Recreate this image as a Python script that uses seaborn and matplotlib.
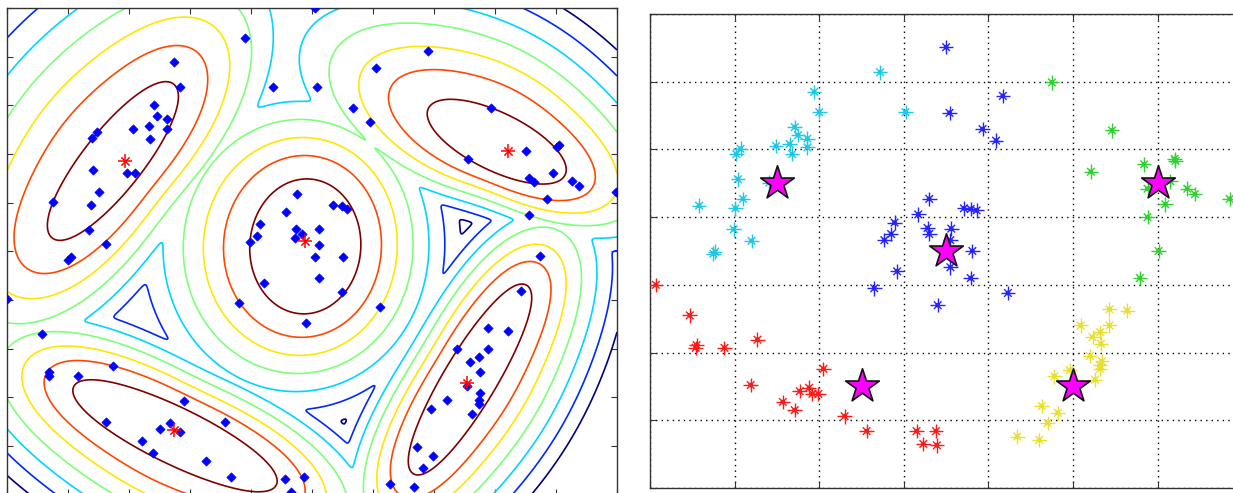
import numpy as np
import pandas as pd
import matplotlib
matplotlib.use("Agg")
import matplotlib.pyplot as plt
import seaborn as sns

# ---- left panel: samples (blue diamonds) ----
left_x = [5.05, 3.90, 2.74, 2.84, 4.36, 2.41, 2.46, 2.63, 2.07, 2.33, 2.63, 1.47, 1.40, 2.35, 1.41, 1.96, 2.10, 1.51, 0.76, 1.38, 1.35, 1.63, 1.00, 1.05,
          4.75, 4.57, 4.15, 4.73, 4.83, 4.72, 4.10, 3.98, 5.35, 5.49, 5.58, 5.12, 5.12, 5.05, 5.51, 5.12, 4.22, 5.49, 3.81, 6.12, 4.90,
          6.90, 6.05, 5.09, 5.67, 5.95, 7.93, 8.51, 9.01, 9.05, 7.56, 8.95, 8.55, 8.64, 9.27, 9.38, 8.86, 9.99, 8.56,
          8.74, 8.42, 7.89, 8.21, 7.37, 7.89, 7.73, 7.59, 7.75, 7.54, 7.75, 7.73, 7.73, 7.22, 6.95, 7.63, 6.72, 6.99, 6.82, 6.28, 6.67,
          0.00, 0.58, 0.69, 0.69, 1.17, 1.74, 2.90, 1.63, 2.51, 2.67, 2.84, 3.57, 2.21, 2.40, 3.27, 3.68, 4.55, 4.87, 4.66]
left_y = [10.00, 9.39, 8.88, 8.38, 8.38, 8.01, 7.78, 7.72, 7.51, 7.57, 7.51, 7.45, 7.33, 7.31, 6.68, 6.60, 6.60, 6.22, 6.01, 5.96, 5.43, 5.14, 4.82, 4.88,
          6.17, 5.81, 5.57, 5.46, 5.35, 5.28, 5.31, 5.18, 5.96, 5.93, 5.87, 5.46, 5.13, 4.89, 4.88, 4.46, 4.34, 4.17, 3.93, 3.85, 3.52,
          9.12, 8.76, 8.38, 7.95, 7.65, 7.95, 7.07, 7.15, 7.18, 6.89, 6.60, 6.50, 6.43, 6.45, 6.34, 6.07, 6.21, 5.75,
          4.90, 4.19, 3.43, 3.37, 2.99, 2.99, 2.82, 2.73, 2.52, 2.22, 2.08, 1.94, 1.87, 1.94, 1.76, 1.65, 0.97, 0.79, 0.55, 0.21, 0.15,
          4.01, 3.29, 2.52, 2.44, 2.44, 2.64, 1.93, 1.49, 1.35, 1.47, 1.28, 1.49, 1.09, 0.86, 0.69, 0.35, 0.32, 0.35, 0.06]

# red stars = estimated means
mean_x = [1.93, 4.89, 8.22, 7.54, 2.73]
mean_y = [6.86, 5.22, 7.07, 2.29, 1.32]

# modes of the contour field: centre, inner ellipse semi-axes, angle,
# level spacing, stretch of that spacing along the long axis, and a skew vector
mode_x = [1.736, 4.89, 8.028, 7.59, 2.754]
mode_y = [6.855, 5.10, 7.252, 2.364, 1.207]
mode_a = [1.607, 1.107, 1.246, 1.803, 1.846]
mode_b = [0.490, 0.910, 0.475, 0.433, 0.466]
mode_ang = [51.7, 86.0, -26.0, 59.0, -25.9]
mode_step = [0.311, 0.295, 0.230, 0.197, 0.213]
mode_stretch = [1.6, 1.0, 2.0, 1.6, 1.8]
skew_x = [-0.235, -0.12, 0.0, 0.171, -0.096]
skew_y = [0.186, 0.0, 0.40, -0.103, -0.198]
contour_steps = [6.3, 5.3, 4.3, 3.3, 2.3, 1.3, 0]   # navy ... dark red

# ---- right panel: k-means clusters ----
cyan_x = [2.72, 1.94, 2.00, 3.02, 1.71, 1.75, 1.86, 1.49, 1.65, 1.86, 1.68, 1.07, 1.02, 1.04, 1.41, 1.10, 0.58, 1.01, 0.99, 1.20, 0.77, 0.75]
cyan_y = [6.14, 5.85, 5.55, 5.55, 5.33, 5.21, 5.16, 5.05, 5.08, 5.03, 4.93, 5.01, 4.93, 4.56, 4.51, 4.27, 4.17, 4.13, 3.82, 3.65, 3.49, 3.46]
blue_x = [3.50, 4.17, 3.54, 3.93, 4.09, 3.30, 3.17, 3.71, 3.79, 3.86, 2.89, 3.28, 3.30, 3.56, 2.85, 2.77, 3.55, 3.81, 3.55, 2.92, 3.79, 2.65, 4.23, 3.40]
blue_y = [6.51, 5.79, 5.54, 5.30, 5.13, 4.27, 4.04, 4.13, 4.12, 4.10, 3.92, 3.84, 3.75, 3.83, 3.75, 3.66, 3.66, 3.50, 3.26, 3.20, 3.10, 2.95, 2.88, 2.70]
green_x = [4.75, 5.46, 5.21, 5.84, 6.21, 6.20, 6.15, 5.88, 6.35, 6.44, 6.85, 6.09, 5.88, 6.01, 5.79]
green_y = [5.99, 5.28, 4.67, 4.78, 4.83, 4.86, 4.53, 4.42, 4.42, 4.34, 4.27, 4.19, 4.00, 3.50, 3.10]
red_x = [0.07, 0.47, 0.55, 0.54, 0.88, 1.27, 2.05, 1.19, 1.77, 1.88, 1.92, 1.99, 1.57, 1.71, 2.30, 2.56, 3.15, 3.38, 3.23, 3.39]
red_y = [3.00, 2.55, 2.11, 2.07, 2.07, 2.19, 1.76, 1.52, 1.43, 1.48, 1.39, 1.39, 1.27, 1.15, 1.06, 0.84, 0.84, 0.84, 0.65, 0.63]
yellow_x = [5.43, 5.64, 5.09, 5.43, 5.23, 5.32, 5.33, 5.20, 5.34, 5.32, 5.32, 4.78, 4.96, 5.26, 4.63, 4.82, 4.70, 4.34, 4.60]
yellow_y = [2.64, 2.62, 2.40, 2.40, 2.23, 2.30, 2.13, 1.95, 1.87, 1.76, 1.81, 1.65, 1.74, 1.60, 1.21, 1.11, 0.96, 0.76, 0.71]
centroid_x = [1.5, 3.5, 6.0, 2.5, 5.0]
centroid_y = [4.5, 3.5, 4.5, 1.5, 1.5]

cluster_colors = {"cyan": "#1ec8e6", "blue": "#2424ff", "green": "#2fd22f", "red": "#ff1a1a", "yellow": "#e8e030"}

sns.set_style("white")
fig = plt.figure(figsize=(12.33, 4.93), dpi=100)
ax1 = fig.add_axes([7 / 1233, -1.5 / 493, 610 / 1233, 486.5 / 493])
ax2 = fig.add_axes([650 / 1233, 5 / 493, 592.3 / 1233, 474 / 493])

# --- contour field: each mode falls off with distance from an inner ellipse ---
ASPECT = 48.65 / 61      # y unit is shorter than x unit on screen
PAD = 0.1
SOFT = 0.12
gx, gy = np.meshgrid(np.linspace(0, 10, 500), np.linspace(0, 10, 400))
fx, fy = gx, gy * ASPECT
th = np.linspace(0, 2 * np.pi, 360, endpoint=False)
parts = []
for k in range(len(mode_x)):
    cx, cy = mode_x[k], mode_y[k] * ASPECT
    t = np.deg2rad(mode_ang[k])
    m = mode_stretch[k]
    ca, cb = mode_a[k] / m - PAD, mode_b[k] - PAD
    u = ((fx - cx) * np.cos(t) + (fy - cy) * np.sin(t)) / m
    v = -(fx - cx) * np.sin(t) + (fy - cy) * np.cos(t)
    d2 = np.full(fx.shape, np.inf)
    for bu, bv in zip(ca * np.cos(th), cb * np.sin(th)):
        d2 = np.minimum(d2, (u - bu) ** 2 + (v - bv) ** 2)
    dist = np.where((u / ca) ** 2 + (v / cb) ** 2 <= 1, 0.0, np.sqrt(d2))
    rr = np.hypot(fx - cx, fy - cy) + 1e-9
    local_step = mode_step[k] * (1 + (skew_x[k] * (fx - cx) + skew_y[k] * (fy - cy)) / rr)
    parts.append((PAD - dist) / local_step)
parts = np.array(parts)
field = SOFT * np.log(np.exp(parts / SOFT).sum(axis=0))
line_colors = [plt.cm.jet(i / 6) for i in range(7)]
ax1.contour(gx, gy, field, levels=[-s for s in contour_steps], colors=line_colors, linewidths=1.2)

sns.scatterplot(x=left_x, y=left_y, marker="D", s=22, color="#0000ff", edgecolor="#0000ff", linewidth=0.5, ax=ax1, zorder=3)
for mk, sz in [("+", 90), ("x", 35)]:
    sns.scatterplot(x=mean_x, y=mean_y, marker=mk, s=sz, color="#ff0000", linewidth=1.1, ax=ax1, zorder=4)

ax1.set_xlim(0, 10)
ax1.set_ylim(0, 10)
ax1.set_xticks(range(11))
ax1.set_yticks(range(11))

# --- right panel ---
df = pd.concat([
    pd.DataFrame({"x": cyan_x, "y": cyan_y, "c": "cyan"}),
    pd.DataFrame({"x": blue_x, "y": blue_y, "c": "blue"}),
    pd.DataFrame({"x": green_x, "y": green_y, "c": "green"}),
    pd.DataFrame({"x": red_x, "y": red_y, "c": "red"}),
    pd.DataFrame({"x": yellow_x, "y": yellow_y, "c": "yellow"}),
])
for mk, sz, lw in [("+", 110, 1.0), ("x", 30, 1.0), ("o", 12, 0)]:
    sns.scatterplot(data=df, x="x", y="y", hue="c", palette=cluster_colors, marker=mk, s=sz,
                    linewidth=lw, legend=False, ax=ax2, zorder=3)
sns.scatterplot(x=centroid_x, y=centroid_y, marker="*", s=650, color="#ff00ff", edgecolor="#111111",
                linewidth=1.2, ax=ax2, zorder=5)
ax2.set_xlim(0, 7)
ax2.set_ylim(0, 7)
ax2.set_xticks(range(8))
ax2.set_yticks(range(8))
ax2.grid(True, color="black", linestyle=(0, (1, 3)), linewidth=1.0)

for ax in (ax1, ax2):
    ax.set_xlabel("")
    ax.set_ylabel("")
    ax.tick_params(direction="in", length=4, width=0.8, color="#333333",
                   top=True, right=True, bottom=True, left=True,
                   labelbottom=False, labelleft=False)
    for sp in ax.spines.values():
        sp.set_color("#333333")
        sp.set_linewidth(1.0)

fig.savefig("out.png", dpi=100)
